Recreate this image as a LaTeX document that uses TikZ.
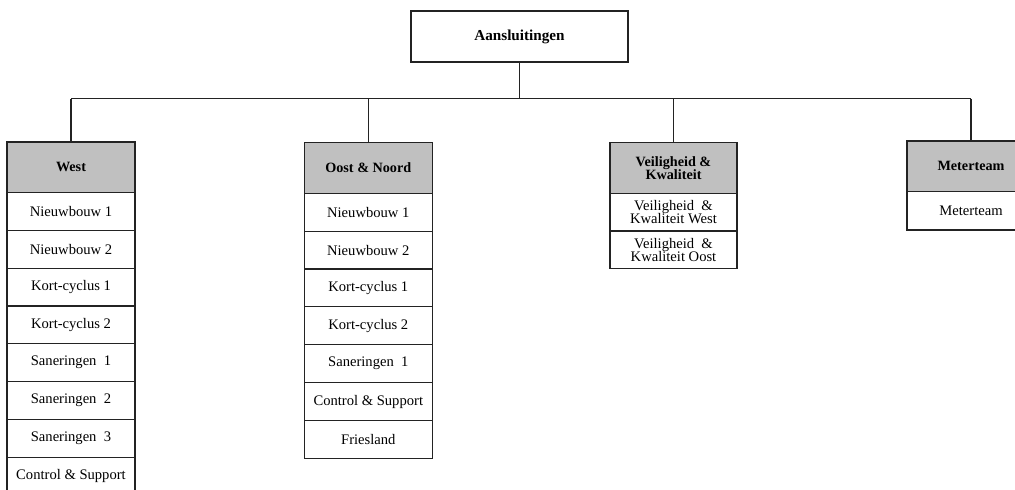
\documentclass[tikz,border=0pt]{standalone}
\usepackage{fontspec}
\setmainfont{Liberation Serif}
\definecolor{headgray}{RGB}{192,192,192}
\definecolor{edge}{RGB}{35,35,35}
\newcommand{\rowfont}{\fontsize{14.6}{13.5}\selectfont}
\newcommand{\headfont}{\fontsize{14.2}{13}\selectfont\bfseries}
\newcommand{\rootfont}{\fontsize{15.2}{15}\selectfont\bfseries}
\begin{document}
\begin{tikzpicture}[x=1pt,y=-1pt,
  box/.style={draw=edge, line width=1.2pt, fill=white, inner sep=0pt, outer sep=0pt,
              anchor=north west, align=center, font=\rowfont,
              minimum width=128, minimum height=37.8},
  head/.style={box, fill=headgray, font=\headfont, minimum height=50.5},
  link/.style={draw=edge, line width=1.2pt}]
\useasboundingbox (0,0) rectangle (1015,490);
\clip (0,0) rectangle (1015,490);

% root
\node[box, font=\rootfont, minimum width=217, minimum height=51] (root) at (411,11) {Aansluitingen};

% West
\node[head] (w0) at (7,142) {West};
\node[box] (w1) at (w0.south west) {Nieuwbouw 1};
\node[box] (w2) at (w1.south west) {Nieuwbouw 2};
\node[box] (w3) at (w2.south west) {Kort-cyclus 1};
\node[box] (w4) at (w3.south west) {Kort-cyclus 2};
\node[box] (w5) at (w4.south west) {Saneringen~~1};
\node[box] (w6) at (w5.south west) {Saneringen~~2};
\node[box] (w7) at (w6.south west) {Saneringen~~3};
\node[box] (w8) at (w7.south west) {Control \& Support};

% Oost & Noord
\node[head, minimum height=51] (o0) at (304.3,142.3) {Oost \& Noord};
\node[box, minimum height=37.86] (o1) at (o0.south west) {Nieuwbouw 1};
\node[box, minimum height=37.86] (o2) at (o1.south west) {Nieuwbouw 2};
\node[box, minimum height=37.86] (o3) at (o2.south west) {Kort-cyclus 1};
\node[box, minimum height=37.86] (o4) at (o3.south west) {Kort-cyclus 2};
\node[box, minimum height=37.86] (o5) at (o4.south west) {Saneringen~~1};
\node[box, minimum height=37.86] (o6) at (o5.south west) {Control \& Support};
\node[box, minimum height=37.86] (o7) at (o6.south west) {Friesland};

% Veiligheid & Kwaliteit
\node[head, minimum width=127, minimum height=51] (v0) at (610,142.3) {Veiligheid \&\\Kwaliteit};
\node[box, minimum width=127, minimum height=37.7] (v1) at (v0.south west) {Veiligheid~~\&\\Kwaliteit West};
\node[box, minimum width=127, minimum height=37.7] (v2) at (v1.south west) {Veiligheid~~\&\\Kwaliteit Oost};

% Meterteam
\node[head, minimum height=50.7] (m0) at (907,141) {Meterteam};
\node[box, minimum height=38.3] (m1) at (m0.south west) {Meterteam};

% connectors
\coordinate (busW) at (w0.north |- 0,98.5);
\coordinate (busM) at (m0.north |- 0,98.5);
\draw[link] (root.south) -- (root.south |- busW);
\draw[link] (busW) -- (busM);
\draw[link] (busW) -- (w0.north);
\draw[link] (o0.north |- busW) -- (o0.north);
\draw[link] (v0.north |- busW) -- (v0.north);
\draw[link] (busM) -- (m0.north);
\end{tikzpicture}
\end{document}
